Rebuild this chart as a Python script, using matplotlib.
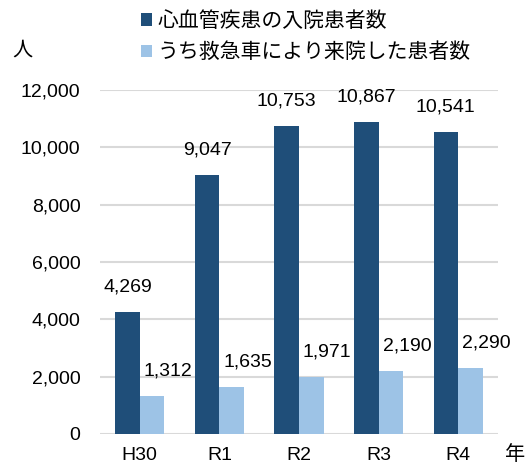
import matplotlib
matplotlib.use("Agg")
import matplotlib.pyplot as plt
import numpy as np
from matplotlib.patches import Patch

categories = ["H30", "R1", "R2", "R3", "R4"]
inpatients = [4269, 9047, 10753, 10867, 10541]
ambulance = [1312, 1635, 1971, 2190, 2290]
series_names = ["心血管疾患の入院患者数", "うち救急車により来院した患者数"]
yticks = [0, 2000, 4000, 6000, 8000, 10000, 12000]

dark = "#1f4e79"
light = "#9dc3e6"
grid_c = "#d9d9d9"
num_font = ["Liberation Sans", "Noto Sans CJK JP"]
cjk_font = ["Noto Sans CJK JP", "DejaVu Sans"]

fig = plt.figure(figsize=(5.29, 4.74), dpi=100)
ax = fig.add_axes([100/529, 1-434/474, 398/529, 344/474])

x = np.arange(len(categories))
w = 0.31
b1 = ax.bar(x - w/2, inpatients, w, color=dark, zorder=3)
b2 = ax.bar(x + w/2, ambulance, w, color=light, zorder=3)

fs = 14
ax.set_ylim(0, 12000)
ax.set_xlim(-0.5, len(categories) - 0.5)
ax.set_yticks(yticks)
ax.set_yticklabels([f"{v:,}" for v in yticks], fontfamily=num_font, fontsize=fs)
ax.set_xticks(x)
ax.set_xticklabels(categories, fontfamily=num_font, fontsize=fs)
ax.tick_params(axis="both", length=0)
ax.tick_params(axis="y", pad=14)
ax.tick_params(axis="x", pad=9)
ax.grid(axis="y", color=grid_c, linewidth=1.5, zorder=0)
for s in ax.spines.values():
    s.set_visible(False)

for xi, v in zip(x, inpatients):
    ax.annotate(f"{v:,}", (xi - w/2, v), xytext=(0, 18), textcoords="offset points",
                ha="center", va="center", fontfamily=num_font, fontsize=fs)
for xi, v in zip(x, ambulance):
    ax.annotate(f"{v:,}", (xi + w/2, v), xytext=(11.5, 18), textcoords="offset points",
                ha="center", va="center", fontfamily=num_font, fontsize=fs)

fig.text(22/529, 1-50/474, "人", fontfamily=cjk_font, fontsize=14.5, ha="center", va="center")
fig.text(515/529, 1-455/474, "年", fontfamily=cjk_font, fontsize=14.5, ha="center", va="center")

handles = [Patch(facecolor=dark), Patch(facecolor=light)]
fig.legend(handles, series_names, loc="upper left", bbox_to_anchor=(141/529, 1-10/474),
           frameon=False, prop={"family": cjk_font, "size": 15},
           handlelength=0.55, handleheight=0.55, handletextpad=0.25, labelspacing=0.45,
           borderaxespad=0, borderpad=0)

fig.savefig("out.png", dpi=100)
